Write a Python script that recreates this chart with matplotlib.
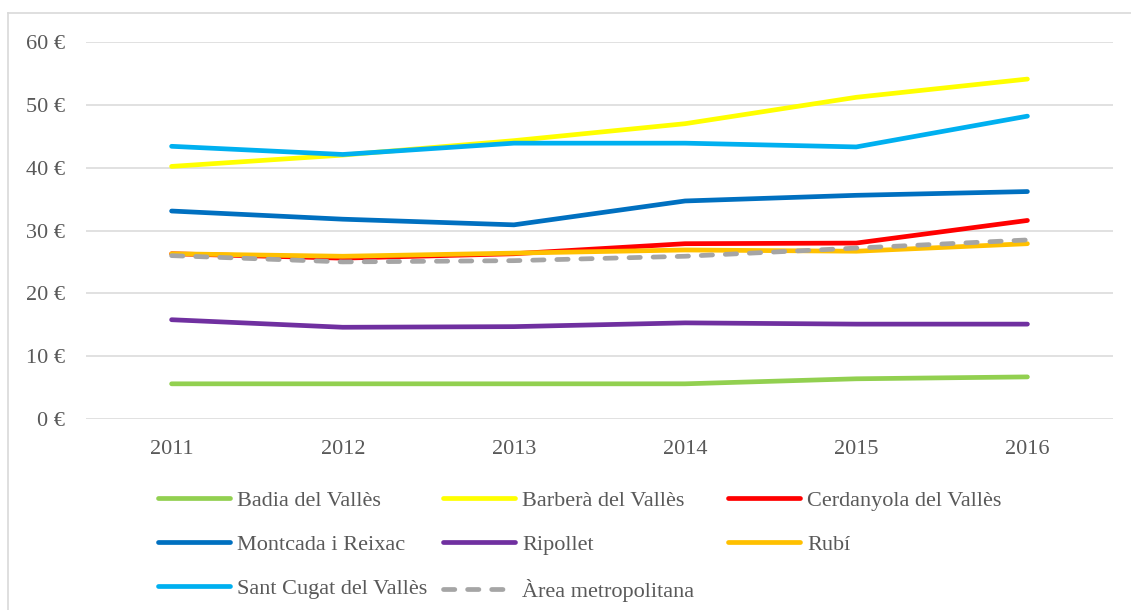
import matplotlib.pyplot as plt
from matplotlib.lines import Line2D
from matplotlib.ticker import FuncFormatter

# ---- Data ----
years = ["2011", "2012", "2013", "2014", "2015", "2016"]

badia = [5.6, 5.6, 5.6, 5.6, 6.4, 6.7]
barbera = [40.2, 42.0, 44.3, 47.0, 51.2, 54.1]
cerdanyola = [26.3, 25.6, 26.3, 27.9, 28.0, 31.6]
montcada = [33.1, 31.8, 30.9, 34.7, 35.6, 36.2]
ripollet = [15.8, 14.6, 14.7, 15.3, 15.1, 15.1]
rubi = [26.3, 25.9, 26.4, 26.9, 26.7, 27.9]
sant_cugat = [43.4, 42.1, 43.9, 43.9, 43.3, 48.2]
area_metro = [26.0, 25.0, 25.2, 25.9, 27.2, 28.5]

series = [
    ("Badia del Vallès", badia, "#92D050", "-"),
    ("Barberà del Vallès", barbera, "#FFFF00", "-"),
    ("Cerdanyola del Vallès", cerdanyola, "#FF0000", "-"),
    ("Montcada i Reixac", montcada, "#0070C0", "-"),
    ("Ripollet", ripollet, "#7030A0", "-"),
    ("Rubí", rubi, "#FFC000", "-"),
    ("Sant Cugat del Vallès", sant_cugat, "#00B0F0", "-"),
    ("Àrea metropolitana", area_metro, "#A5A5A5", "--"),
]

txt = "#595959"
fs = 16
plt.rcParams['font.family'] = ['Liberation Serif', 'DejaVu Serif']

W, H = 1131, 610
fig = plt.figure(figsize=(W / 100, H / 100), dpi=100)
ax = fig.add_axes([86 / W, 1 - 419 / H, 1027 / W, 377 / H])

x = list(range(len(years)))
handles = {}
for name, vals, col, ls in series:
    if ls == "--":
        ln, = ax.plot(x, vals, color=col, lw=3.4, dashes=(2.4, 2.7),
                      dash_capstyle='round', label=name)
    else:
        ln, = ax.plot(x, vals, color=col, lw=3.4, solid_capstyle='round',
                      solid_joinstyle='round', label=name)
    handles[name] = ln

ax.set_xlim(-0.5, len(years) - 0.5)
ax.set_ylim(0, 60)
ax.set_yticks(range(0, 61, 10))
ax.yaxis.set_major_formatter(FuncFormatter(lambda v, p: f"{int(v)} €"))
ax.set_xticks(x)
ax.set_xticklabels(years)
ax.grid(axis='y', color='#D9D9D9', lw=1.1)
ax.set_axisbelow(True)
for s in ax.spines.values():
    s.set_visible(False)
ax.tick_params(length=0, labelsize=fs, labelcolor=txt)
ax.tick_params(axis='y', pad=15)
ax.tick_params(axis='x', pad=15)

# Legend: three columns placed where the reference puts them
columns = [
    (158, ["Badia del Vallès", "Montcada i Reixac", "Sant Cugat del Vallès"]),
    (443, ["Barberà del Vallès", "Ripollet", "Àrea metropolitana"]),
    (728, ["Cerdanyola del Vallès", "Rubí"]),
]
for xpos, names in columns:
    leg = fig.legend([handles[n] for n in names], names, loc='upper left',
                     bbox_to_anchor=(xpos / W, 1 - 490 / H), frameon=False,
                     fontsize=fs, handlelength=3.25, handletextpad=0.3,
                     labelspacing=1.07, labelcolor=txt, borderpad=0,
                     borderaxespad=0)

# Outer chart border (only top and left are visible in the crop)
fig.add_artist(Line2D([8 / W, 1], [1 - 13 / H, 1 - 13 / H], color='#D9D9D9', lw=1.2))
fig.add_artist(Line2D([8 / W, 8 / W], [0, 1 - 13 / H], color='#D9D9D9', lw=1.2))

fig.savefig("out.png", dpi=100)
